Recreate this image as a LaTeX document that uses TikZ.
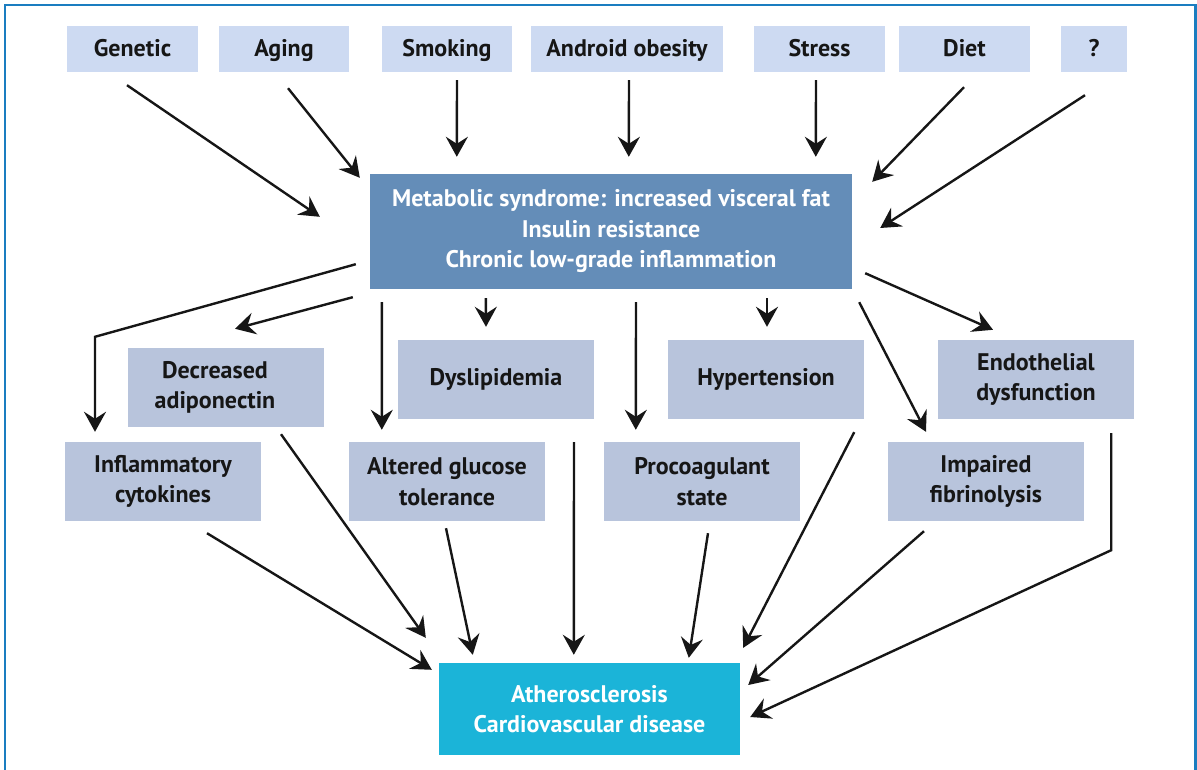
\documentclass[tikz,border=0pt]{standalone}
\usepackage{fontspec}
\setmainfont{PT Sans}
\usetikzlibrary{arrows.meta,calc}
\definecolor{topfill}{HTML}{CDDAF2}
\definecolor{midfill}{HTML}{B8C4DC}
\definecolor{metfill}{HTML}{648DB8}
\definecolor{athfill}{HTML}{1BB4D8}
\definecolor{framecol}{HTML}{1A7DC0}
\definecolor{ink}{HTML}{161616}
\tikzset{
  base/.style={inner sep=0pt, align=center, font=\fontsize{24bp}{30.5bp}\selectfont\bfseries},
  topbox/.style={base, fill=topfill, text=ink, minimum height=46bp, text height=17bp, text depth=1bp},
  midbox/.style={base, fill=midfill, text=ink, minimum width=196bp, minimum height=79bp},
  metbox/.style={base, fill=metfill, text=white, minimum width=482bp, minimum height=115bp},
  athbox/.style={base, fill=athfill, text=white, minimum width=301bp, minimum height=92bp},
  plain/.style={base, text=ink},
  arr/.style={draw=ink, line width=2.4bp, -{Stealth[length=20bp, width=22bp, inset=7bp]}},
}
\begin{document}
\begin{tikzpicture}[x=1bp, y=-1bp]
\useasboundingbox (0,0) rectangle (1197,770);
% frame
\draw[framecol, line width=2.5bp] (5,772) -- (5,5) -- (1195.5,5) -- (1195.5,772);

% causes
\node[topbox, minimum width=131bp] (gen)  at (132.5,49) {Genetic};
\node[topbox, minimum width=130bp] (age)  at (284,49)   {Aging};
\node[topbox, minimum width=130bp] (smk)  at (447,49)   {Smoking};
\node[topbox, minimum width=192bp] (obe)  at (627,49)   {Android obesity};
\node[topbox, minimum width=131bp] (str)  at (819.5,49) {Stress};
\node[topbox, minimum width=131bp] (diet) at (964.5,49) {Diet};
\node[topbox, minimum width=66bp]  (unk)  at (1094,49)  {?};

% central box
\node[metbox] (met) at (611,231.5) {Metabolic syndrome: increased visceral fat\\Insulin resistance\\Chronic low-grade inflammation};

% consequences
\node[midbox] (dec) at (226,387.5) {};
\node[plain] (dect) at (215,387.5) {Decreased\\adiponectin};
\node[midbox] (dys) at (496,379.5) {Dyslipidemia};
\node[midbox] (hyp) at (766,379.5) {Hypertension};
\node[midbox] (endo) at (1036,379.5) {Endothelial\\dysfunction};
\node[midbox] (inf) at (163,481.5) {Inflammatory\\cytokines};
\node[midbox] (alt) at (447,481.5) {Altered glucose\\tolerance};
\node[midbox] (pro) at (702,481.5) {Procoagulant\\state};
\node[midbox] (imp) at (986,481.5) {Impaired\\fibrinolysis};

% outcome
\node[athbox] (ath) at (589.5,709) {Atherosclerosis\\Cardiovascular disease};

% causes -> metabolic syndrome
\draw[arr] ($(gen.south)+(-5.5,13)$) -- ($(met.north west)+(-50,43)$);
\draw[arr] ($(age.south)+(4,16)$) -- ($(met.north west)+(-10,4)$);
\draw[arr] ($(smk.south)+(10,8)$) -- ($(met.north west)+(87,-17)$);
\draw[arr] ($(obe.south)+(2,8)$) -- ($(met.north west)+(259,-17)$);
\draw[arr] ($(str.south)+(-3.5,8)$) -- ($(met.north west)+(446,-17)$);
\draw[arr] ($(diet.south)+(-0.5,15)$) -- ($(met.north east)+(20,8)$);
\draw[arr] ($(unk.south)+(-9,23)$) -- ($(met.east)+(28,-3.5)$);

% metabolic syndrome -> consequences
\coordinate (infbend) at ($(inf.north)+(-68,-105)$);
\draw[arr] ($(met.south west)+(-14,-25)$) -- (infbend) -- ($(inf.north)+(-68,-10)$);
\draw[arr] ($(met.south west)+(-17,8)$) -- ($(dec.north)+(9,-19)$);
\draw[arr] ($(met.south west)+(12,13)$) -- ($(alt.north west)+(33,-12)$);
\draw[arr] ($(met.south west)+(116,9)$) -- ($(dys.north)+(-10,-13)$);
\draw[arr] ($(met.south)+(25,13)$) -- ($(pro.north west)+(32,-12)$);
\draw[arr] ($(met.south)+(156,9)$) -- ($(hyp.north)+(1,-13)$);
\draw[arr] ($(met.south east)+(7,13)$) -- ($(imp.north)+(-60,-10)$);
\draw[arr] ($(met.south east)+(13,-16)$) -- ($(endo.north)+(-43,-10)$);

% consequences -> atherosclerosis
\draw[arr] ($(inf.south)+(44,12)$) -- ($(ath.north west)+(-7,7)$);
\draw[arr] ($(dec.south)+(55,7)$) -- ($(ath.north west)+(-13,-25)$);
\draw[arr] ($(alt.south)+(-1,7)$) -- ($(ath.north west)+(34,-8)$);
\draw[arr] ($(dys.south)+(78,23)$) -- ($(ath.north west)+(135,-8)$);
\draw[arr] ($(pro.south)+(6,12)$) -- ($(ath.north west)+(250,-5)$);
\draw[arr] ($(hyp.south east)+(-10,13)$) -- ($(ath.north east)+(3,-15)$);
\draw[arr] ($(imp.south)+(-62,10)$) -- ($(ath.east)+(8,-24)$);
\coordinate (endbend) at ($(endo.south east)+(-23,131)$);
\draw[arr] ($(endo.south east)+(-23,14)$) -- (endbend) -- ($(ath.east)+(10,8)$);
\end{tikzpicture}
\end{document}
